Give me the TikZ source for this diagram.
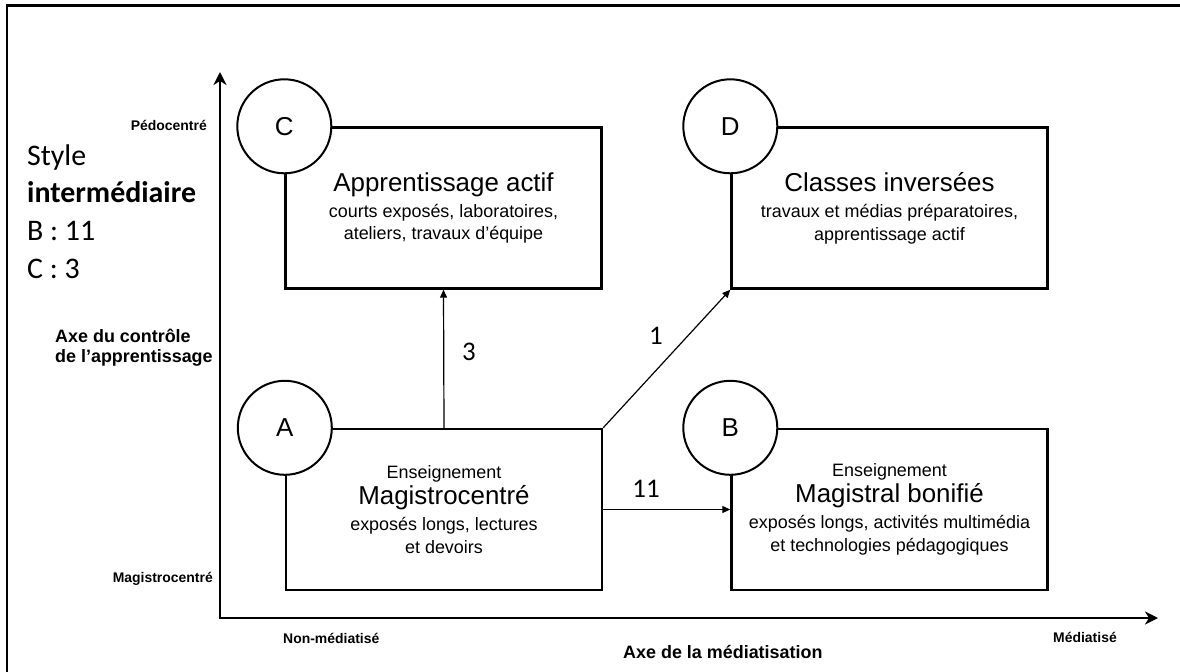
\documentclass[tikz,border=0pt]{standalone}
\usepackage{fontspec}
\setmainfont{Liberation Sans}
\newfontfamily\calibri{Carlito}
\usetikzlibrary{arrows.meta}
\newcommand{\boxtitle}[1]{{\fontsize{26}{26}\selectfont #1}}
\begin{document}
\begin{tikzpicture}[x=1bp,y=-1bp,
  frame/.style={line width=2.2bp},
  box/.style={draw,line width=2.4bp,rectangle,minimum width=316bp,minimum height=161bp,
    inner sep=0pt,align=center,font={\fontsize{18}{23}\selectfont\lineskiplimit=-50bp}},
  badge/.style={draw,circle,line width=2bp,fill=white,minimum size=94bp,inner sep=0pt,
    font=\fontsize{26}{26}\selectfont},
  link/.style={line width=1.2bp,-{Triangle[length=8bp,width=7bp]}},
  axis/.style={line width=2.4bp,{Stealth[length=13bp,width=13bp,inset=4bp]}-{Stealth[length=13bp,width=13bp,inset=4bp]}},
  num/.style={font=\calibri\fontsize{27}{27}\selectfont},
  axislabel/.style={inner sep=0pt,font=\bfseries\fontsize{14}{16}\selectfont},
  axistitle/.style={inner sep=0pt,font=\bfseries\fontsize{18}{20}\selectfont},
  stylefont/.style={inner sep=0pt,anchor=base west,font=\calibri\fontsize{30}{36}\selectfont}]
\useasboundingbox (0,0) rectangle (1180,672);

% outer frame
\draw[frame] (7,672) -- (7,5.5) -- (1180,5.5);

% axes
\coordinate (origin) at (220,618);
\coordinate (ytop) at (220,72);
\coordinate (xend) at (1158,618);
\draw[axis] (ytop) -- (origin) -- (xend);

% axis labels
\node[axislabel,anchor=base east] (pedo) at (207,131) {Pédocentré};
\node[axislabel,anchor=base east] (magi) at (213,582) {Magistrocentré};
\node[axislabel,anchor=base west] (nonmed) at (283,643) {Non-médiatisé};
\node[axislabel,anchor=base west] (med) at (1053,642) {Médiatisé};
\node[axistitle,anchor=base west] (xtitle) at (623,658) {Axe de la médiatisation};
\node[axistitle,anchor=north west,align=left] (ytitle) at (55,329) {Axe du contrôle\\de l’apprentissage};

% summary on the left
\node[stylefont] (st1) at (27,166) {Style};
\node[stylefont] (st2) at (27,203) {\bfseries intermédiaire};
\node[stylefont] (st3) at (27,240) {B : 11};
\node[stylefont] (st4) at (27,278) {C : 3};

% the four teaching styles
\node[box] (boxC) at (443.5,208) {\boxtitle{Apprentissage actif}\\[3bp]courts exposés, laboratoires,\\ateliers, travaux d’équipe};
\node[box] (boxD) at (889.5,208) {\boxtitle{Classes inversées}\\[3bp]travaux et médias préparatoires,\\apprentissage actif};
\node[box] (boxA) at (444,509.5) {Enseignement\\[3bp]\boxtitle{Magistrocentré}\\[3bp]exposés longs, lectures\\et devoirs};
\node[box] (boxB) at (889.5,509.5) {Enseignement\\[3bp]\boxtitle{Magistral bonifié}\\[3bp]exposés longs, activités multimédia\\et technologies pédagogiques};

\node[badge] (circC) at (boxC.north west) {C};
\node[badge] (circD) at (boxD.north west) {D};
\node[badge] (circA) at (boxA.north west) {A};
\node[badge] (circB) at (boxB.north west) {B};

% transitions from A
\draw[link] (boxA.north) -- (boxC.south);
\draw[link] (boxA.north east) -- (boxD.south west);
\draw[link] (boxA.east) -- (boxB.west);

\node[num] (n3) at (469,352) {3};
\node[num] (n1) at (656,336) {1};
\node[num] (n11) at (646,489) {11};
\end{tikzpicture}
\end{document}
